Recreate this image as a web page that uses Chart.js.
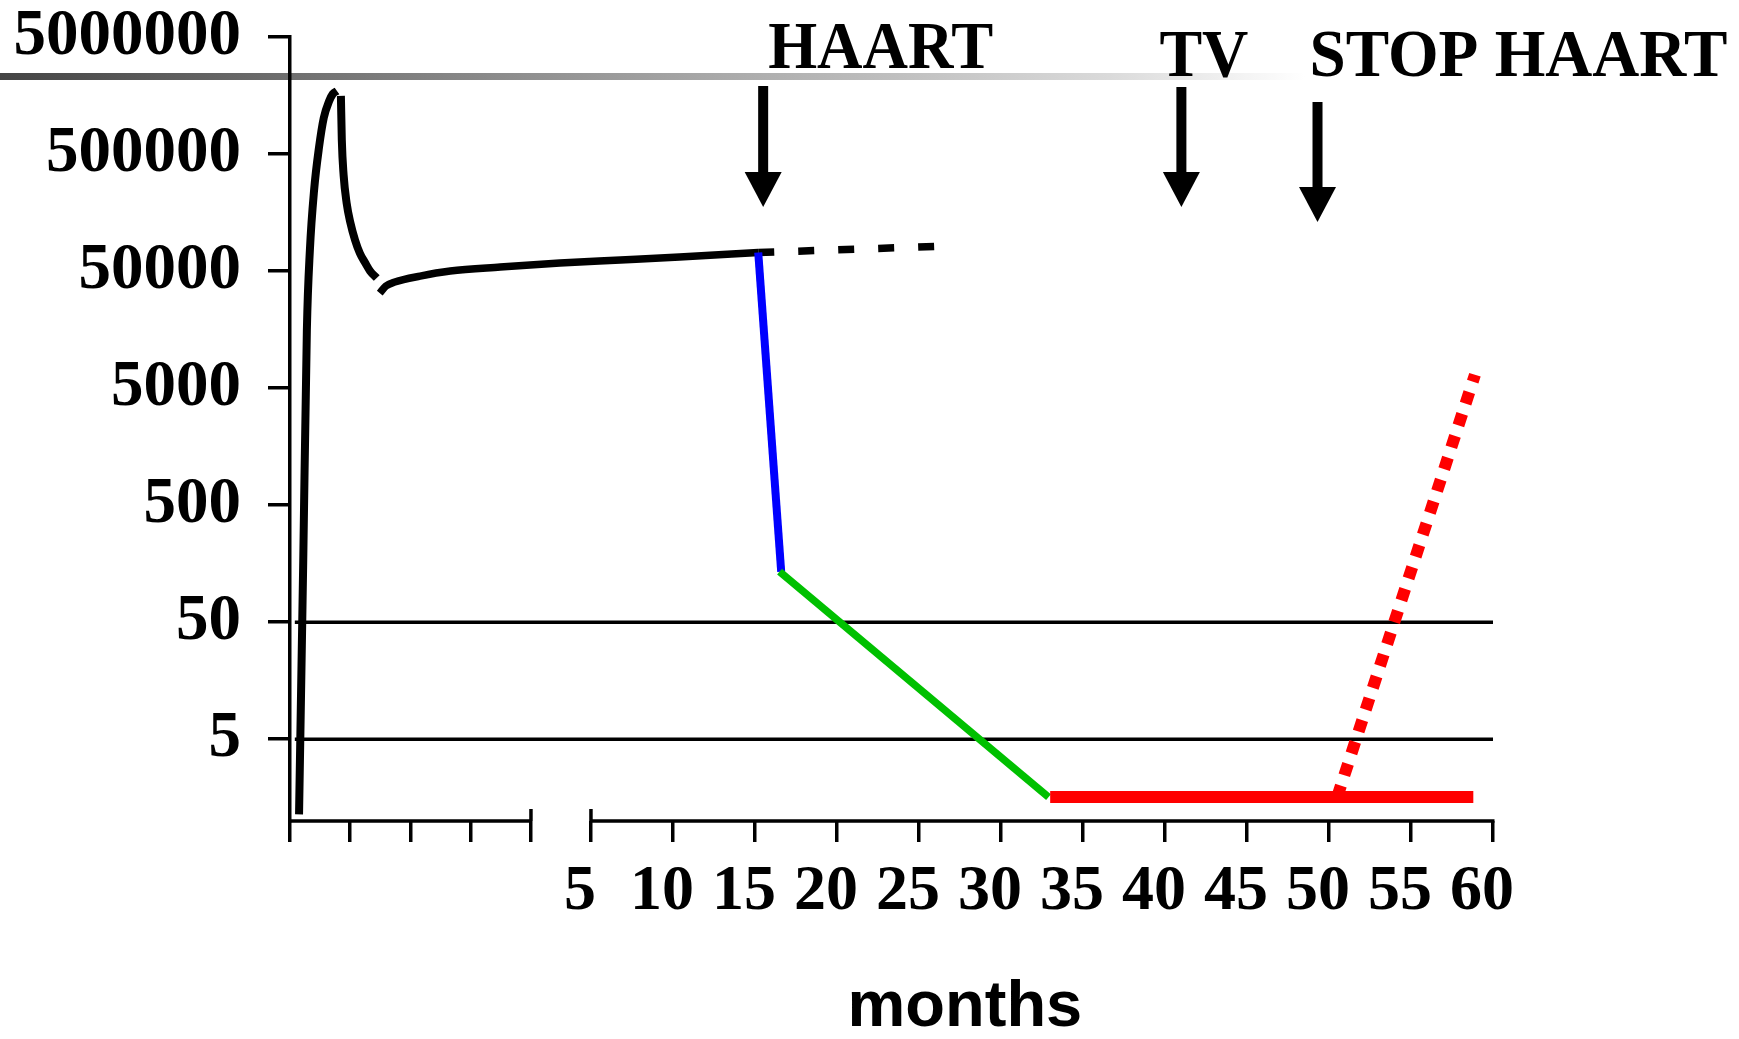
<!DOCTYPE html>
<html>
<head>
<meta charset="utf-8">
<style>
  html, body { margin: 0; padding: 0; background: #fff; }
  #wrap { width: 1739px; height: 1039px; position: relative; }
</style>
<script src="https://cdn.jsdelivr.net/npm/chart.js@4.4.0/dist/chart.umd.min.js"></script>
</head>
<body>
<div id="wrap"><canvas id="viralLoad"></canvas></div>
<script>
// acute infection is drawn on a stretched segment left of the axis break (one tick per week)
const WEEK0 = -13.35;   // axis position of week 0
const WEEK = 3.673;     // axis units per week tick
const wk = w => WEEK0 + w * WEEK;

const weekTicks = [0, 1, 2, 3, 4];
const monthTicks = [5, 10, 15, 20, 25, 30, 35, 40, 45, 50, 55, 60];
const yTicks = [5, 50, 500, 5000, 50000, 500000, 5000000];

// primary infection: burst ...
const riseWeeks = [0.15, 0.22, 0.28, 0.33, 0.40, 0.48, 0.56, 0.65, 0.71, 0.78];
const riseLoad = [1.14, 170, 15700, 75500, 246000, 562000, 1016000, 1420000, 1630000, 1730000];
// ... and drop to the set point
const fallWeeks = [0.845, 0.86, 0.89, 0.94, 1.00, 1.08, 1.16, 1.25, 1.33, 1.44];
const fallLoad = [1570000, 660000, 330000, 191000, 131000, 92000, 71000, 58500, 50000, 43600];

// chronic phase set point, first in weeks then in months
const chronicWeeks = [1.49, 1.59, 1.74, 2.16, 2.66, 3.49, 4.48];
const chronicWeeksLoad = [32400, 37200, 40300, 45300, 50000, 54100, 58500];
const chronicMonths = [6.8, 10.4, 15.2];
const chronicMonthsLoad = [62100, 65900, 72000];

// without treatment
const untreatedMonths = [15.2, 26.7];
const untreatedLoad = [72000, 81800];

// HAART: first phase, second phase, suppression, rebound after stop
const firstPhaseMonths = [15.2, 16.6];
const firstPhaseLoad = [72000, 135];
const secondPhaseMonths = [16.5, 32.9];
const secondPhaseLoad = [135, 1.6];
const suppressedMonths = [33.0, 58.8];
const suppressedLoad = [1.6, 1.6];
const reboundMonths = [50.5, 58.9];
const reboundLoad = [1.6, 6500];

// detection limits
const limitLevels = [50, 5];
const limitFrom = 0.08;   // weeks
const limitTo = 60;       // months

// events marked with arrows above the plot
const eventLabels = ['HAART', 'TV', 'STOP HAART'];
const eventMonths = [15.5, 41.0, 49.3];

const pts = (xs, ys) => xs.map((x, i) => ({ x: x, y: ys[i] }));

const serif = '"Liberation Serif", "Times New Roman", serif';

function line(data, color, width, extra) {
  return Object.assign({
    data: data,
    borderColor: color,
    borderWidth: width,
    pointRadius: 0,
    fill: false,
    borderCapStyle: 'butt',
    borderJoinStyle: 'round'
  }, extra || {});
}

const smooth = { cubicInterpolationMode: 'monotone' };

const datasets = [
  line(pts(reboundMonths, reboundLoad), '#ff0000', 12, { borderDash: [12, 11] }),
  line(pts(suppressedMonths, suppressedLoad), '#ff0000', 12),
  line(pts(secondPhaseMonths, secondPhaseLoad), '#00c000', 7.5),
  line(pts(firstPhaseMonths, firstPhaseLoad), '#0000ff', 8),
  line(pts(untreatedMonths, untreatedLoad), '#000', 7.5, { borderDash: [16, 24] }),
  line(pts(riseWeeks.map(wk), riseLoad), '#000', 8, smooth),
  line(pts(fallWeeks.map(wk), fallLoad), '#000', 8, smooth),
  line(pts(chronicWeeks.map(wk).concat(chronicMonths), chronicWeeksLoad.concat(chronicMonthsLoad)),
       '#000', 7.5, smooth)
];
limitLevels.forEach(level => {
  datasets.push(line([{ x: wk(limitFrom), y: level }, { x: limitTo, y: level }], '#000', 3.5));
});

// gray rule across the top
const topRule = {
  id: 'topRule',
  beforeDraw(chart) {
    const ctx = chart.ctx;
    const g = ctx.createLinearGradient(0, 0, 1305, 0);
    g.addColorStop(0, '#444444');
    g.addColorStop(0.25, '#747474');
    g.addColorStop(0.55, '#a9a9a9');
    g.addColorStop(0.85, '#dadada');
    g.addColorStop(1, '#ffffff');
    ctx.save();
    ctx.fillStyle = g;
    ctx.fillRect(0, 73, 1305, 7);
    ctx.restore();
  }
};

// broken x axis, event arrows and axis title
const decorations = {
  id: 'decorations',
  afterDraw(chart) {
    const ctx = chart.ctx;
    const x = chart.scales.x;
    const y0 = chart.chartArea.bottom;
    ctx.save();
    ctx.strokeStyle = '#000';
    ctx.lineWidth = 3.5;
    ctx.lineCap = 'butt';

    const l0 = x.getPixelForValue(wk(0)) - 2;
    const l1 = x.getPixelForValue(wk(4));
    const r0 = x.getPixelForValue(5);
    const r1 = x.getPixelForValue(60);
    ctx.beginPath();
    ctx.moveTo(l0, y0); ctx.lineTo(l1, y0);
    ctx.moveTo(r0, y0); ctx.lineTo(r1 + 1.5, y0);
    // break marks
    ctx.moveTo(l1, y0 - 12); ctx.lineTo(l1, y0);
    ctx.moveTo(r0, y0 - 12); ctx.lineTo(r0, y0);
    ctx.stroke();

    // arrows
    const arrowTop = [86, 87, 102];
    const arrowTip = [207, 207, 222];
    ctx.fillStyle = '#000';
    eventMonths.forEach((m, i) => {
      const ax = x.getPixelForValue(m);
      const headTop = arrowTip[i] - 35;
      ctx.fillRect(ax - 5, arrowTop[i], 10, headTop - arrowTop[i] + 1);
      ctx.beginPath();
      ctx.moveTo(ax - 18.5, headTop);
      ctx.lineTo(ax + 18.5, headTop);
      ctx.lineTo(ax, arrowTip[i]);
      ctx.closePath();
      ctx.fill();
    });

    // arrow captions
    const labelShift = [5, -22, -8];
    const labelBase = [68, 76, 76];
    const labelWidth = [225, 89, 418];
    ctx.font = 'bold 67px ' + serif;
    ctx.textAlign = 'left';
    ctx.textBaseline = 'alphabetic';
    eventLabels.forEach((t, i) => {
      ctx.fillText(t, x.getPixelForValue(eventMonths[i]) + labelShift[i], labelBase[i], labelWidth[i]);
    });

    // axis title
    ctx.font = 'bold 65px "Liberation Sans", Arial, sans-serif';
    ctx.textAlign = 'center';
    ctx.fillText('months', x.getPixelForValue(27.8), 1026);
    ctx.restore();
  }
};

// keep the plot area fixed: no extra room for overhanging tick labels
function noOverhang(s) {
  s.paddingTop = 0;
  s.paddingBottom = 0;
  s.paddingLeft = 0;
  s.paddingRight = 0;
}

new Chart(document.getElementById('viralLoad'), {
  type: 'line',
  data: { datasets: datasets },
  plugins: [topRule, decorations],
  options: {
    responsive: true,
    maintainAspectRatio: false,
    animation: false,
    layout: { autoPadding: false, padding: { left: 0, top: 37, right: 246, bottom: 0 } },
    plugins: { legend: { display: false }, tooltip: { enabled: false } },
    scales: {
      x: {
        type: 'linear',
        min: WEEK0,
        max: 60,
        border: { display: false },
        grid: { drawOnChartArea: false, drawTicks: true, tickLength: 21, color: '#000', lineWidth: 3.5 },
        ticks: {
          autoSkip: false,
          maxRotation: 0,
          padding: 12,
          labelOffset: -11,
          color: '#000',
          font: { family: serif, size: 64, weight: 'bold' },
          callback: v => (v >= 5 ? String(v) : '')
        },
        afterBuildTicks: s => {
          s.ticks = weekTicks.map(wk).concat(monthTicks).map(v => ({ value: v }));
        },
        afterFit: s => { s.height = 218; noOverhang(s); }
      },
      y: {
        type: 'logarithmic',
        min: 1,
        max: 5000000,
        border: { display: true, color: '#000', width: 3.5 },
        grid: { drawOnChartArea: false, drawTicks: true, tickLength: 22, color: '#000', lineWidth: 3.5 },
        ticks: {
          padding: 27,
          color: '#000',
          font: { family: serif, size: 65, weight: 'bold' },
          callback: v => String(v)
        },
        afterBuildTicks: s => {
          s.ticks = yTicks.map(v => ({ value: v }));
        },
        afterFit: s => { s.width = 290; noOverhang(s); }
      }
    }
  }
});
</script>
</body>
</html>
